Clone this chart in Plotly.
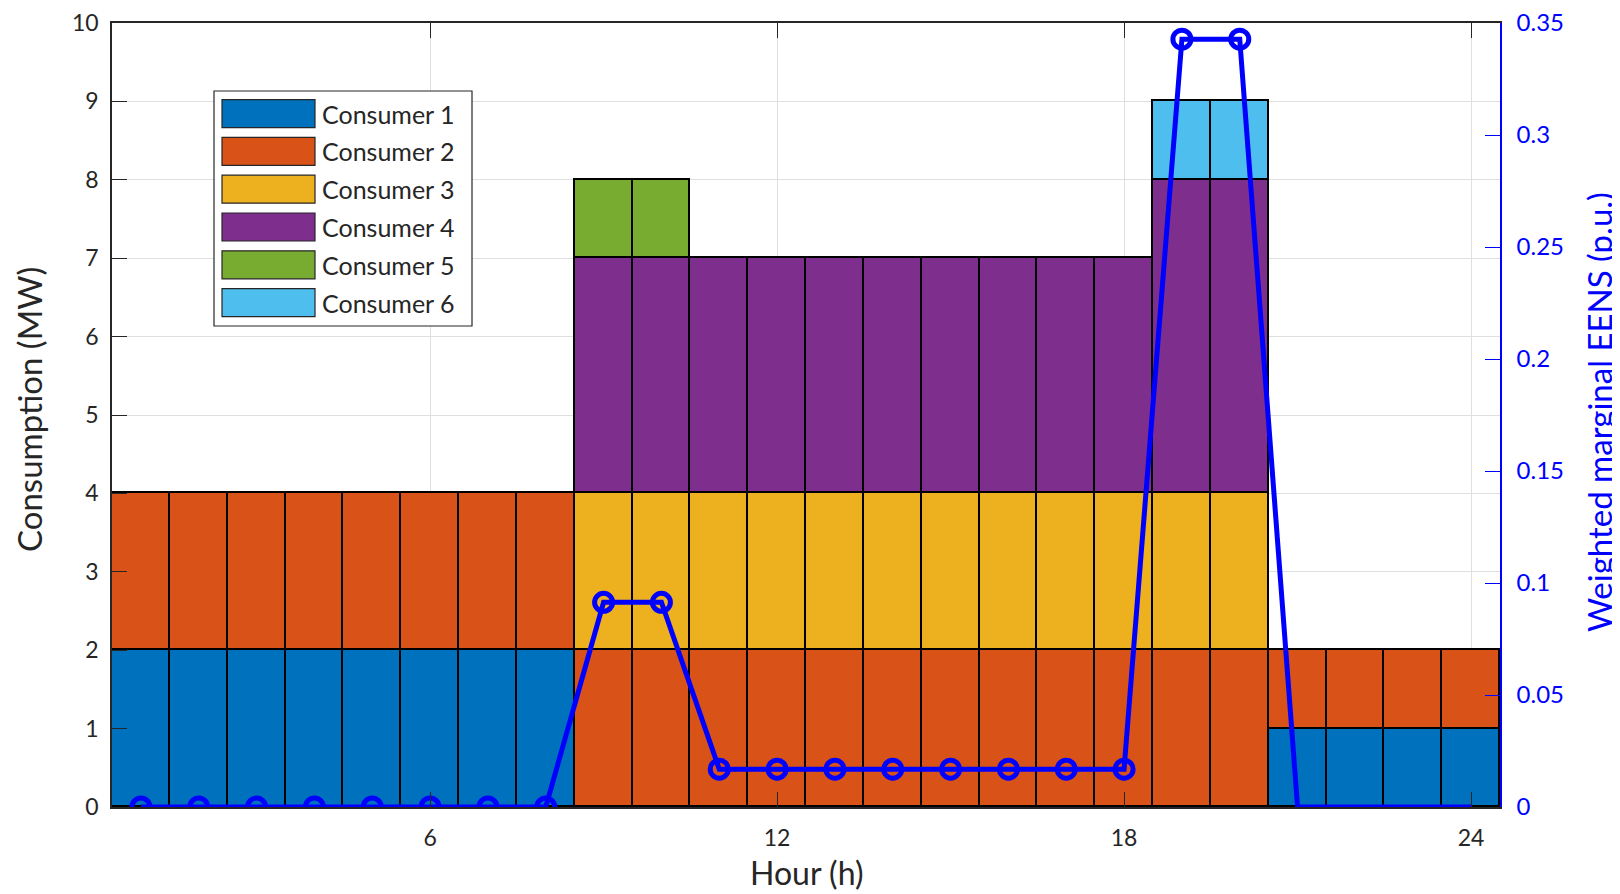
import plotly.graph_objects as go

hours = list(range(1, 25))
consumer_names = ["Consumer 1", "Consumer 2", "Consumer 3", "Consumer 4", "Consumer 5", "Consumer 6"]
consumer_colors = ["#0072BD", "#D95319", "#EDB120", "#7E2F8E", "#77AC30", "#4DBEEE"]

c1 = [2]*8 + [0]*12 + [1]*4
c2 = [2]*8 + [2]*12 + [1]*4
c3 = [0]*8 + [2]*12 + [0]*4
c4 = [0]*8 + [3]*10 + [4]*2 + [0]*4
c5 = [0]*8 + [1]*2 + [0]*10 + [0]*4
c6 = [0]*8 + [0]*10 + [1]*2 + [0]*4
consumers = [c1, c2, c3, c4, c5, c6]

eens = [0]*8 + [0.0914]*2 + [0.0169]*8 + [0.3428]*2 + [0]*4
marker_sizes = [18]*20 + [0]*4

y2_ticks = [0, 0.05, 0.1, 0.15, 0.2, 0.25, 0.3, 0.35]
y2_labels = ["0", "0.05", "0.1", "0.15", "0.2", "0.25", "0.3", "0.35"]

FONT = "Lato"
DARK = "#262626"
BLUE = "#0000FF"

fig = go.Figure()
for name, col, vals in zip(consumer_names, consumer_colors, consumers):
    fig.add_trace(go.Bar(x=hours, y=vals, name=name,
                         marker=dict(color=col, line=dict(color="black", width=1.6)),
                         showlegend=False))

fig.add_trace(go.Scatter(x=hours, y=eens, yaxis="y2", mode="lines+markers",
                         line=dict(color=BLUE, width=5),
                         marker=dict(symbol="circle-open", size=marker_sizes, color=BLUE, opacity=1,
                                     line=dict(width=5, color=BLUE)),
                         showlegend=False))

# page offset (body margin) compensation: figure coords = page coords - OFF
OFF = 8
W, H = 1612, 886
L, R, T, B = 104, 120, 15, 87
pw, ph = W - L - R, H - T - B

def px(x):
    return (x - OFF - L) / pw

def py(y):
    return (H - B - (y - OFF)) / ph

shapes = []
annotations = []
shapes.append(dict(type="rect", xref="paper", yref="paper", x0=px(214), x1=px(472), y0=py(326), y1=py(91),
                   fillcolor="white", line=dict(color=DARK, width=1.2), layer="above"))
for i, (name, col) in enumerate(zip(consumer_names, consumer_colors)):
    cy = 113.6 + i * 37.8
    shapes.append(dict(type="rect", xref="paper", yref="paper", x0=px(222), x1=px(315), y0=py(cy + 14), y1=py(cy - 14),
                       fillcolor=col, line=dict(color=DARK, width=1.2), layer="above"))
    annotations.append(dict(xref="paper", yref="paper", x=px(320), y=py(cy), text=name, showarrow=False,
                            xanchor="left", yanchor="middle", font=dict(family=FONT, size=25, color=DARK)))

# axis titles
annotations.append(dict(xref="paper", yref="paper", x=px(806), y=py(872), text="Hour (h)", showarrow=False,
                        xanchor="center", yanchor="middle", font=dict(family=FONT, size=32, color=DARK)))
annotations.append(dict(xref="paper", yref="paper", x=px(29), y=py(410), text="Consumption (MW)", showarrow=False,
                        textangle=-90, xanchor="center", yanchor="middle", font=dict(family=FONT, size=33, color=DARK)))
annotations.append(dict(xref="paper", yref="paper", x=px(1599), y=py(412), text="Weighted marginal EENS (p.u.)",
                        showarrow=False, textangle=-90, xanchor="center", yanchor="middle",
                        font=dict(family=FONT, size=33, color=BLUE)))

fig.update_layout(
    width=W, height=H,
    margin=dict(l=L, r=R, t=T, b=B),
    paper_bgcolor="white", plot_bgcolor="white",
    barmode="stack", bargap=0,
    font=dict(family=FONT, size=24, color=DARK),
    shapes=shapes, annotations=annotations,
    xaxis=dict(range=[0.5, 24.5], tickvals=[6, 12, 18, 24], ticks="inside", ticklen=15, tickcolor=DARK,
               showline=True, linecolor=DARK, linewidth=1.5, mirror="ticks", automargin=False,
               showgrid=True, gridcolor="#DFDFDF", gridwidth=1, zeroline=False,
               tickfont=dict(size=23), ticklabelstandoff=10),
    yaxis=dict(range=[0, 10], tickvals=list(range(0, 11)), ticks="inside", ticklen=15, tickcolor=DARK,
               showline=True, linecolor=DARK, linewidth=1.5, automargin=False, ticklabeloverflow="allow",
               showgrid=True, gridcolor="#DFDFDF", gridwidth=1, zeroline=False,
               tickfont=dict(size=23), ticklabelstandoff=7),
    yaxis2=dict(range=[0, 0.35], tickvals=y2_ticks, ticktext=y2_labels,
                overlaying="y", side="right", ticks="inside", ticklen=15, tickcolor=BLUE, automargin=False,
                ticklabeloverflow="allow",
                showline=True, linecolor=BLUE, linewidth=1.5, showgrid=False, zeroline=False,
                tickfont=dict(size=24, color=BLUE), ticklabelstandoff=10),
)

fig.write_html("out.html")
